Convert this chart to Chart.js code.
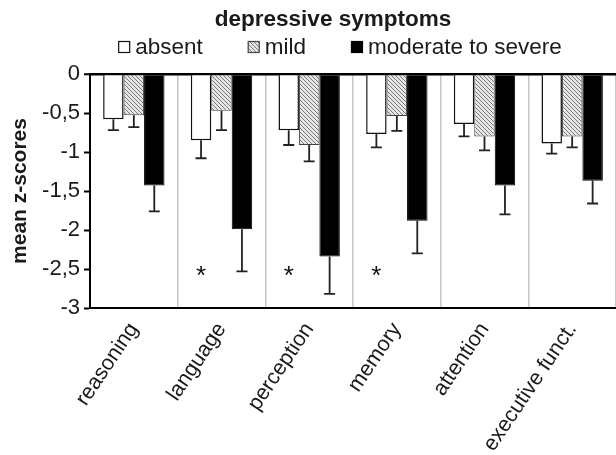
<!DOCTYPE html>
<html>
<head>
<meta charset="utf-8">
<script src="https://cdn.jsdelivr.net/npm/chart.js@4"></script>
<style>
  html, body { margin: 0; padding: 0; background: #fff; }
  #wrap { width: 616px; height: 455px; }
</style>
</head>
<body>
<div id="wrap"><canvas id="c" width="616" height="455"></canvas></div>
<script>
// ---- data ----
const categories = ['reasoning', 'language', 'perception', 'memory', 'attention', 'executive funct.'];
const seriesNames = ['absent', 'mild', 'moderate to severe'];
const absentValues = [-0.58, -0.85, -0.72, -0.77, -0.64, -0.89];
const absentErrors = [0.14, 0.23, 0.19, 0.17, 0.16, 0.13];
const mildValues = [-0.53, -0.47, -0.91, -0.54, -0.80, -0.80];
const mildErrors = [0.15, 0.25, 0.21, 0.19, 0.18, 0.14];
const severeValues = [-1.43, -1.99, -2.34, -1.88, -1.43, -1.37];
const severeErrors = [0.33, 0.54, 0.48, 0.42, 0.37, 0.29];
const yTicks = [0, -0.5, -1, -1.5, -2, -2.5, -3];
const yTickLabels = ['0', '-0,5', '-1', '-1,5', '-2', '-2,5', '-3'];
const significantCategories = ['language', 'perception', 'memory'];
const asteriskLevel = -2.53;
const legendTitle = 'depressive symptoms';
const yAxisTitle = 'mean z-scores';

// ---- styles ----
const FONT = "'Liberation Sans', Arial, Helvetica, sans-serif";
const TEXT = '#1a1a1a';

function makeHatch() {
  const p = document.createElement('canvas');
  p.width = 4; p.height = 4;
  const g = p.getContext('2d');
  g.fillStyle = '#e6e6e6';
  g.fillRect(0, 0, 4, 4);
  g.fillStyle = '#7a7a7a';
  for (let i = 0; i < 4; i++) g.fillRect(i, i, 1, 1);
  return g.createPattern(p, 'repeat');
}
const hatch = makeHatch();

const errorBarPlugin = {
  id: 'errorBars',
  afterDatasetsDraw(chart) {
    const ctx = chart.ctx;
    const ys = chart.scales.y;
    ctx.save();
    ctx.strokeStyle = '#222';
    ctx.lineWidth = 1.8;
    chart.data.datasets.forEach((ds, i) => {
      const meta = chart.getDatasetMeta(i);
      meta.data.forEach((el, j) => {
        const v = ds.data[j];
        const e = ds.errors[j];
        const x = el.x;
        const y0 = ys.getPixelForValue(v);
        const y1 = ys.getPixelForValue(v - e);
        ctx.beginPath();
        ctx.moveTo(x, y0);
        ctx.lineTo(x, y1);
        ctx.moveTo(x - 5.5, y1);
        ctx.lineTo(x + 5.5, y1);
        ctx.stroke();
      });
    });
    // asterisks over the "absent" bars
    const meta0 = chart.getDatasetMeta(0);
    ctx.fillStyle = '#111';
    ctx.font = '26px ' + FONT;
    ctx.textAlign = 'center';
    ctx.textBaseline = 'alphabetic';
    const m = ctx.measureText('*');
    const off = (m.actualBoundingBoxAscent - m.actualBoundingBoxDescent) / 2;
    significantCategories.forEach(cat => {
      const idx = categories.indexOf(cat);
      const el = meta0.data[idx];
      const y = ys.getPixelForValue(asteriskLevel);
      ctx.fillText('*', el.x, y + off);
    });
    ctx.restore();
  }
};

const legendPlugin = {
  id: 'customLegend',
  afterDraw(chart) {
    const ctx = chart.ctx;
    ctx.save();
    ctx.fillStyle = TEXT;
    ctx.font = 'bold 22.5px ' + FONT;
    ctx.textAlign = 'center';
    ctx.textBaseline = 'middle';
    ctx.fillText(legendTitle, 333, 20);

    ctx.font = '22.5px ' + FONT;
    const box = 12, gapText = 5, gapItem = 45;
    const items = chart.data.datasets.map(ds => ({
      label: ds.label, bg: ds.backgroundColor, bc: ds.borderColor,
      w: box + gapText + ctx.measureText(ds.label).width
    }));
    const total = items.reduce((s, it) => s + it.w, 0) + gapItem * (items.length - 1);
    let x = 340 - total / 2;
    const cy = 47;
    items.forEach(it => {
      ctx.fillStyle = it.bg;
      ctx.fillRect(x, cy - box / 2, box, box);
      ctx.strokeStyle = it.bc;
      ctx.lineWidth = 1.2;
      ctx.strokeRect(x + 0.5, cy - box / 2 + 0.5, box - 1, box - 1);
      ctx.fillStyle = TEXT;
      ctx.textAlign = 'left';
      ctx.fillText(it.label, x + box + gapText, cy + 1);
      x += it.w + gapItem;
    });
    ctx.restore();
  }
};

new Chart(document.getElementById('c'), {
  type: 'bar',
  data: {
    labels: categories,
    datasets: [
      { label: seriesNames[0], data: absentValues, errors: absentErrors,
        backgroundColor: '#ffffff', borderColor: '#111', borderWidth: 1.5 },
      { label: seriesNames[1], data: mildValues, errors: mildErrors,
        backgroundColor: hatch, borderColor: '#444', borderWidth: 1 },
      { label: seriesNames[2], data: severeValues, errors: severeErrors,
        backgroundColor: '#000000', borderColor: '#000', borderWidth: 1 }
    ]
  },
  options: {
    responsive: false,
    animation: false,
    devicePixelRatio: 1,
    layout: { padding: { top: 74, left: 0, right: 0, bottom: 0 } },
    datasets: { bar: { categoryPercentage: 0.7, barPercentage: 1.0 } },
    plugins: { legend: { display: false }, tooltip: { enabled: false } },
    scales: {
      x: {
        grid: { display: true, drawOnChartArea: true, drawTicks: false, color: '#c6c6c6', lineWidth: 1.5, offset: true },
        border: { display: true, color: '#000', width: 2 },
        ticks: { minRotation: 56, maxRotation: 56, autoSkip: false, padding: 10, color: TEXT,
                 font: { family: FONT, size: 21.5 } },
        afterFit: s => { s.height = 147; }
      },
      y: {
        min: -3, max: 0,
        ticks: {
          stepSize: 0.5, padding: 4, color: TEXT, font: { family: FONT, size: 22 },
          callback: v => {
            const i = yTicks.findIndex(t => Math.abs(t - v) < 1e-9);
            return i >= 0 ? yTickLabels[i] : '';
          }
        },
        grid: {
          drawOnChartArea: true, drawTicks: true, tickLength: 6, tickColor: '#000', tickWidth: 2,
          color: c => (c.tick && Math.abs(c.tick.value) < 1e-9) ? '#000' : 'rgba(0,0,0,0)',
          lineWidth: c => (c.tick && Math.abs(c.tick.value) < 1e-9) ? 2.5 : 1
        },
        border: { display: true, color: '#000', width: 2 },
        title: { display: true, text: yAxisTitle, color: TEXT, padding: { top: 8, bottom: 4 },
                 font: { family: FONT, size: 21, weight: 'bold' } },
        afterFit: s => { s.width = 90; }
      }
    }
  },
  plugins: [errorBarPlugin, legendPlugin]
});
</script>
</body>
</html>
